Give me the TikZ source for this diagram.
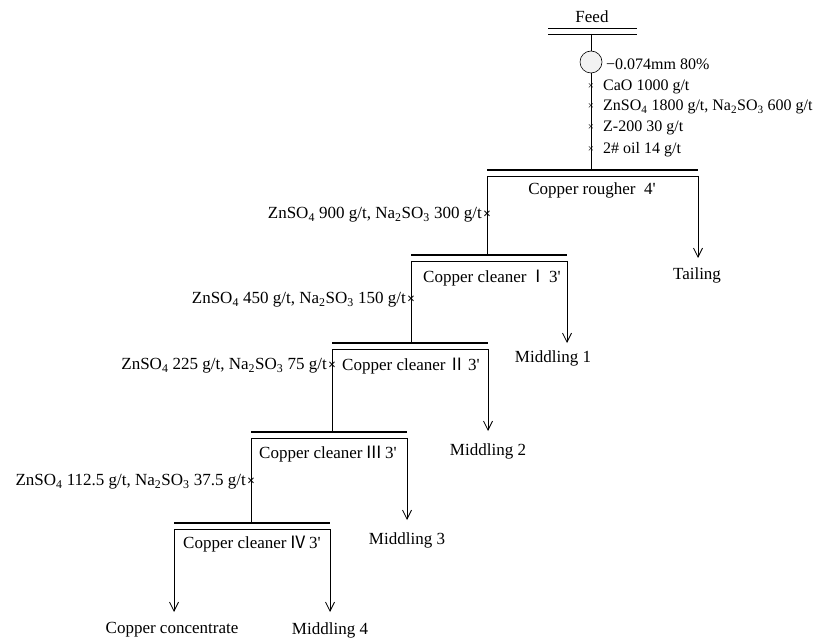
\documentclass[tikz,border=0pt]{standalone}
\usepackage{fontspec}
\setmainfont{Liberation Serif}
\newfontfamily\cjk{Noto Sans CJK SC}
\usetikzlibrary{arrows.meta}

\tikzset{
  lbl/.style={font=\fontsize{17}{19}\selectfont, inner sep=0pt},
  toplbl/.style={font=\fontsize{16}{18}\selectfont, inner sep=0pt, anchor=west},
  dose/.style={font=\fontsize{17}{19}\selectfont, inner sep=0pt, anchor=east},
  xmark/.style={font=\fontsize{11}{12}\selectfont, inner sep=0pt},
  bigx/.style={font=\fontsize{14}{15}\selectfont\bfseries, inner sep=0pt},
  pipe/.style={line width=0.8pt},
  bar/.style={line width=2.6pt},
  prodarrow/.style={line width=0.8pt, -{Straight Barb[length=9pt,width=9pt]}}
}
\newcommand{\sub}[1]{\textsubscript{#1}}
\newcommand{\rn}[1]{{\cjk #1}}

\begin{document}
\begin{tikzpicture}[x=1pt,y=-1pt]
\useasboundingbox (0,0) rectangle (832,644);

% Feed and grinding
\node[lbl] (feed) at (592,17) {Feed};
\coordinate (fdl) at (548,28);
\coordinate (fdr) at (637,28);
\draw[pipe] (fdl) -- (fdr);
\draw[pipe] ([yshift=-6pt]fdl) -- ([yshift=-6pt]fdr);
\coordinate (fdout) at (591,34);
\node[draw, circle, fill=gray!10, line width=0.6pt, minimum size=22pt, inner sep=0pt] (mill) at (591,62) {};
\node[toplbl] (grind) at (606,64) {−0.074mm 80\%};
\draw[pipe] (fdout) -- (mill.north);

% Rougher
\coordinate (rgl) at (487,170);
\coordinate (rgr) at (698,170);
\coordinate (rgin) at (591,170);
\draw[bar] (rgl) -- (rgr);
\draw[pipe] ([yshift=-6pt]rgl) -- ([yshift=-6pt]rgr);
\node[lbl] (rglbl) at (592,190) {Copper rougher\ \ 4\textquotesingle};
\draw[pipe] (mill.south) -- (rgin);

% reagents to rougher
\node[xmark] (x1) at (591,87) {×};
\node[xmark] (x2) at (591,107) {×};
\node[xmark] (x3) at (591,128) {×};
\node[xmark] (x4) at (591,150) {×};
\node[toplbl] at (603,87) {CaO 1000 g/t};
\node[toplbl] at (603,107) {ZnSO\sub{4} 1800 g/t, Na\sub{2}SO\sub{3} 600 g/t};
\node[toplbl] at (603,128) {Z-200 30 g/t};
\node[toplbl] at (603,150) {2\# oil 14 g/t};

% Cleaner I
\coordinate (c1l) at (411,255);
\coordinate (c1r) at (567,255);
\draw[bar] (c1l) -- (c1r);
\draw[pipe] ([yshift=-6pt]c1l) -- ([yshift=-6pt]c1r);
\node[lbl] (c1lbl) at (492,278) {Copper cleaner\,\rn{Ⅰ}\,3\textquotesingle};

% Cleaner II
\coordinate (c2l) at (332,343);
\coordinate (c2r) at (488,343);
\draw[bar] (c2l) -- (c2r);
\draw[pipe] ([yshift=-6pt]c2l) -- ([yshift=-6pt]c2r);
\node[lbl] (c2lbl) at (411,366) {Copper cleaner\,\rn{Ⅱ}\,3\textquotesingle};

% Cleaner III
\coordinate (c3l) at (251,432);
\coordinate (c3r) at (407,432);
\draw[bar] (c3l) -- (c3r);
\draw[pipe] ([yshift=-6pt]c3l) -- ([yshift=-6pt]c3r);
\node[lbl] (c3lbl) at (328,454) {Copper cleaner\,\rn{Ⅲ}\,3\textquotesingle};

% Cleaner IV
\coordinate (c4l) at (174,523);
\coordinate (c4r) at (330,523);
\draw[bar] (c4l) -- (c4r);
\draw[pipe] ([yshift=-6pt]c4l) -- ([yshift=-6pt]c4r);
\node[lbl] (c4lbl) at (252,544) {Copper cleaner\,\rn{Ⅳ}\,3\textquotesingle};

% froth lines
\coordinate (rgfr) at (487,255);
\coordinate (c1fr) at (411,343);
\coordinate (c2fr) at (332,432);
\coordinate (c3fr) at (251,523);
\draw[pipe] ([yshift=-6pt]rgl) -- (rgfr);
\draw[pipe] ([yshift=-6pt]c1l) -- (c1fr);
\draw[pipe] ([yshift=-6pt]c2l) -- (c2fr);
\draw[pipe] ([yshift=-6pt]c3l) -- (c3fr);

% cleaner reagents
\node[bigx] (x5) at (487,215) {×};
\node[bigx] (x6) at (411,300) {×};
\node[bigx] (x7) at (332,366) {×};
\node[bigx] (x8) at (251,482) {×};
\node[dose] at (482,215) {ZnSO\sub{4} 900 g/t, Na\sub{2}SO\sub{3} 300 g/t};
\node[dose] at (406,300) {ZnSO\sub{4} 450 g/t, Na\sub{2}SO\sub{3} 150 g/t};
\node[dose] at (327,366) {ZnSO\sub{4} 225 g/t, Na\sub{2}SO\sub{3} 75 g/t};
\node[dose] at (246,482) {ZnSO\sub{4} 112.5 g/t, Na\sub{2}SO\sub{3} 37.5 g/t};

% products
\node[lbl] (tail) at (697,275) {Tailing};
\node[lbl] (mid1) at (553,358) {Middling 1};
\node[lbl] (mid2) at (488,451) {Middling 2};
\node[lbl] (mid3) at (407,540) {Middling 3};
\node[lbl] (mid4) at (330,630) {Middling 4};
\node[lbl] (conc) at (172,630) {Copper concentrate};
\coordinate (tailend) at (698,258);
\coordinate (mid1end) at (567,343);
\coordinate (mid2end) at (488,431);
\coordinate (mid3end) at (407,520);
\coordinate (mid4end) at (330,612);
\coordinate (concend) at (174,612);
\draw[prodarrow] ([yshift=-6pt]rgr) -- (tailend);
\draw[prodarrow] ([yshift=-6pt]c1r) -- (mid1end);
\draw[prodarrow] ([yshift=-6pt]c2r) -- (mid2end);
\draw[prodarrow] ([yshift=-6pt]c3r) -- (mid3end);
\draw[prodarrow] ([yshift=-6pt]c4r) -- (mid4end);
\draw[prodarrow] ([yshift=-6pt]c4l) -- (concend);
\end{tikzpicture}
\end{document}
